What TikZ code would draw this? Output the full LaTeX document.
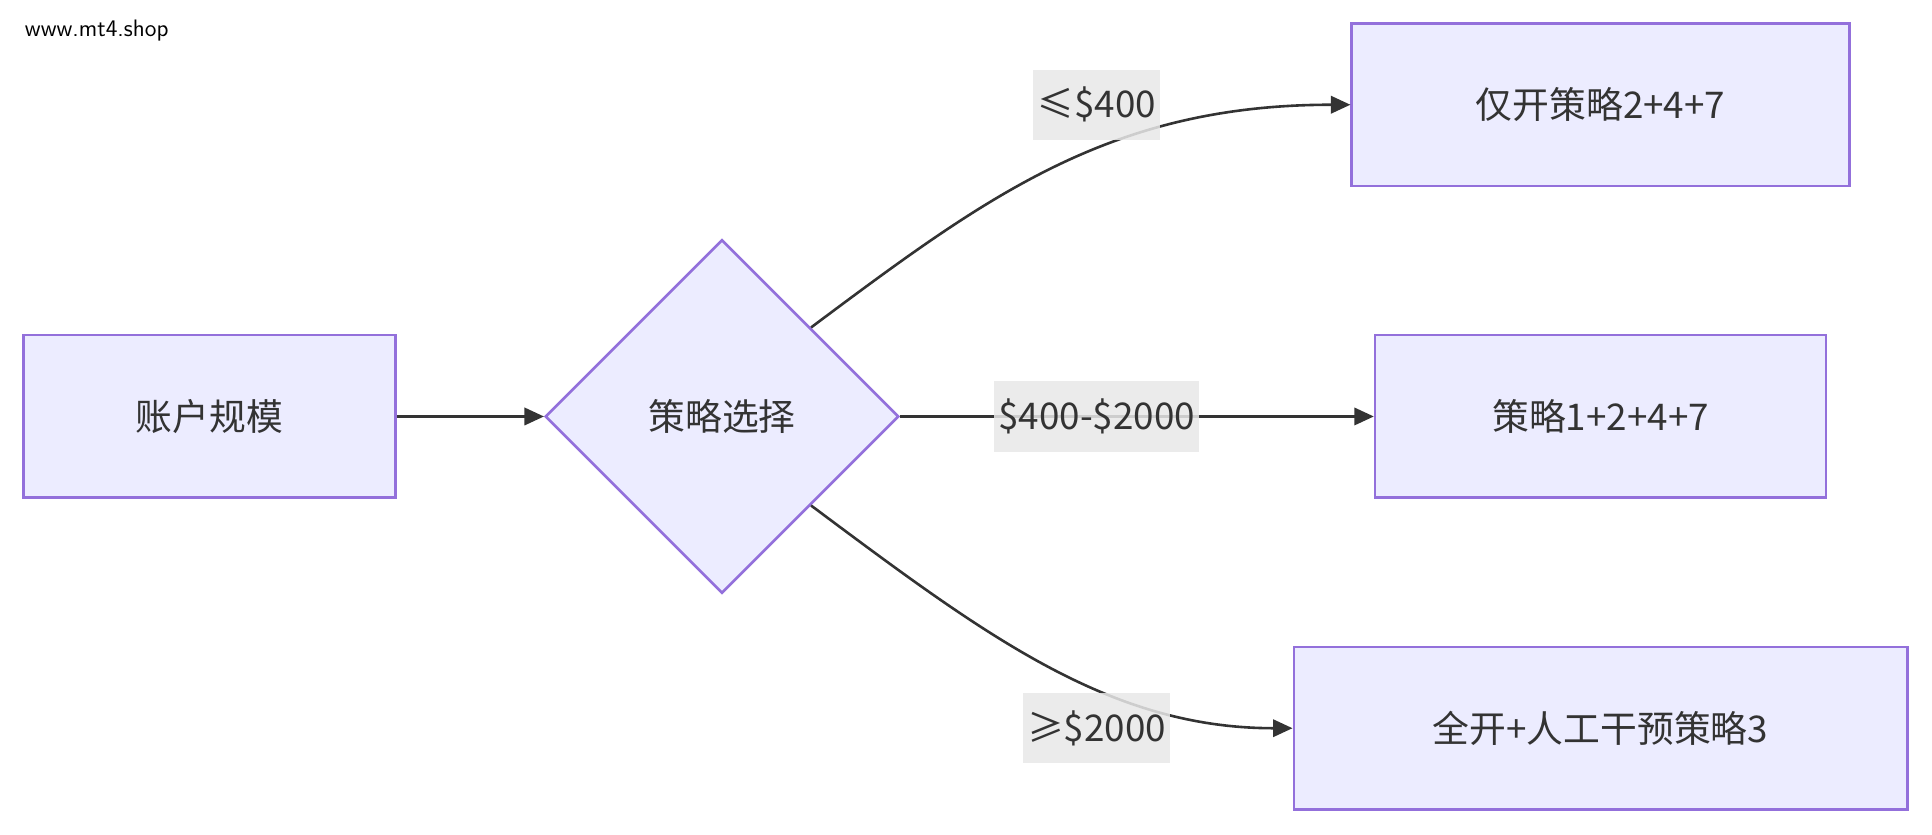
\documentclass[tikz,border=0pt]{standalone}
\usepackage{fontspec}
\setmainfont{Noto Sans CJK SC}
\usetikzlibrary{shapes.geometric,arrows.meta}
\definecolor{boxfill}{HTML}{ECECFF}
\definecolor{boxline}{HTML}{9370DB}
\definecolor{edgeline}{HTML}{333333}
\definecolor{labelbg}{HTML}{E8E8E8}
\begin{document}
\begin{tikzpicture}[x=0.02cm,y=-0.02cm]
    \tikzset{
        box/.style = {draw=boxline, fill=boxfill, line width=1.2pt, font=\fontsize{17}{20}\selectfont, text=edgeline},
        choice/.style = {box, shape=diamond, minimum width=5.74cm, minimum height=5.74cm, inner sep=0pt},
        edge/.style = {draw=edgeline, line width=1.2pt, -{Triangle[length=9pt,width=8pt]}},
        tag/.style = {fill=labelbg, fill opacity=0.85, text opacity=1, text=edgeline, font=\fontsize{17}{20}\selectfont, inner sep=2pt, minimum height=1.14cm}
    }
    \useasboundingbox (0,0) rectangle (1568,677);
    \node[anchor=west, font=\fontsize{11}{13}\selectfont\sffamily] (site) at (14,25) {www.mt4.shop};

    \node[box, minimum width=6.04cm, minimum height=2.64cm] (size) at (170,338) {账户规模};
    \node[choice] (pick) at (586,338) {策略选择};
    \node[box, minimum width=8.08cm, minimum height=2.64cm] (small) at (1299,85) {仅开策略2+4+7};
    \node[box, minimum width=7.32cm, minimum height=2.64cm] (mid) at (1299,338) {策略1+2+4+7};
    \node[box, minimum width=9.96cm, minimum height=2.64cm] (large) at (1299,591) {全开+人工干预策略3};

    % connectors
    \draw[edge] (size.east) -- (pick.west);
    \draw[edge] (pick.north east) .. controls (800,160) and (900,85) .. (small.west);
    \draw[edge] (pick.east) -- (mid.west);
    \draw[edge] (pick.south east) .. controls (800,516) and (900,591) .. (large.west);

    % labels
    \node[tag] (lowtag) at (890,85) {≤\$400};
    \node[tag] (midtag) at (890,338) {\$400-\$2000};
    \node[tag] (hightag) at (890,591) {≥\$2000};
\end{tikzpicture}
\end{document}
